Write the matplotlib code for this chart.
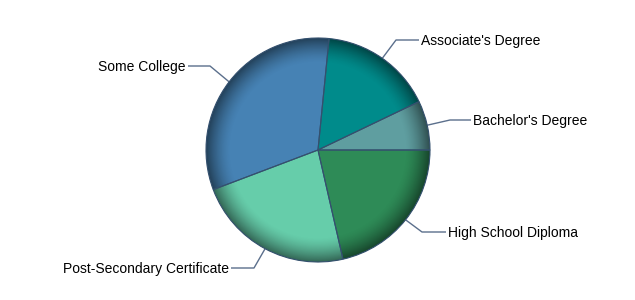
import numpy as np
import matplotlib
matplotlib.use("Agg")
import matplotlib.pyplot as plt
from matplotlib.patches import Circle, Wedge

plt.rcParams['font.family'] = ['Liberation Sans', 'DejaVu Sans']

# Share of people by highest education level (percent)
categories = ["Bachelor's Degree", "Associate's Degree", "Some College",
              "Post-Secondary Certificate", "High School Diploma"]
shares = [7.1, 16.3, 32.3, 22.8, 21.4]
colors = ["#5F9EA0", "#008B8B", "#4682B4", "#66CDAA", "#2E8B57"]

W, H = 635, 300
cx, cy, R = 318, 150, 112

fig = plt.figure(figsize=(W / 100, H / 100), dpi=100)
ax = fig.add_axes([0, 0, 1, 1])

wedges, _ = ax.pie(shares, colors=colors, startangle=0, counterclock=True,
                   center=(cx, cy), radius=R, frame=True,
                   wedgeprops=dict(linewidth=0))

# radial shading: dark rim towards the outer edge
n = 400
xs = np.linspace(cx - R, cx + R, n)
ys = np.linspace(cy - R, cy + R, n)
X, Y = np.meshgrid(xs, ys)
r = np.hypot(X - cx, Y - cy) / R
alpha = np.clip((r - 0.78) / 0.22, 0, 1) ** 1.5 * 0.5
shade = np.zeros((n, n, 4))
shade[..., 3] = alpha
img = ax.imshow(shade, extent=(cx - R, cx + R, cy - R, cy + R), origin='lower',
                interpolation='bilinear', zorder=3)
img.set_clip_path(Circle((cx, cy), R, transform=ax.transData))

# wedge outlines on top of the shading
for w in wedges:
    ax.add_patch(Wedge(w.center, w.r, w.theta1, w.theta2, fill=False,
                       edgecolor="#34506e", linewidth=0.8, zorder=4))

# label layout: elbow point (x, y from top) and text anchor
elbows = [(450, 120), (396, 40), (210, 66), (254, 268), (422, 232)]
text_x = [473, 421, 186, 229, 448]
ha = ['left', 'left', 'right', 'right', 'left']

for w, (ex, ey), tx, h, lab in zip(wedges, elbows, text_x, ha, categories):
    mid = np.deg2rad((w.theta1 + w.theta2) / 2)
    sx = cx + R * np.cos(mid)
    sy = cy + R * np.sin(mid)
    ey_up = H - ey
    end = tx - 2 if h == 'left' else tx + 2
    ax.plot([sx, ex, end], [sy, ey_up, ey_up], color="#5b6f8c",
            linewidth=1.0, zorder=2, solid_capstyle='butt')
    ax.text(tx, ey_up - 0.5, lab, ha=h, va='center', fontsize=10, color='black')

ax.set_xlim(0, W)
ax.set_ylim(0, H)
ax.set_aspect('auto')
ax.axis('off')

fig.savefig("out.png", dpi=100)
